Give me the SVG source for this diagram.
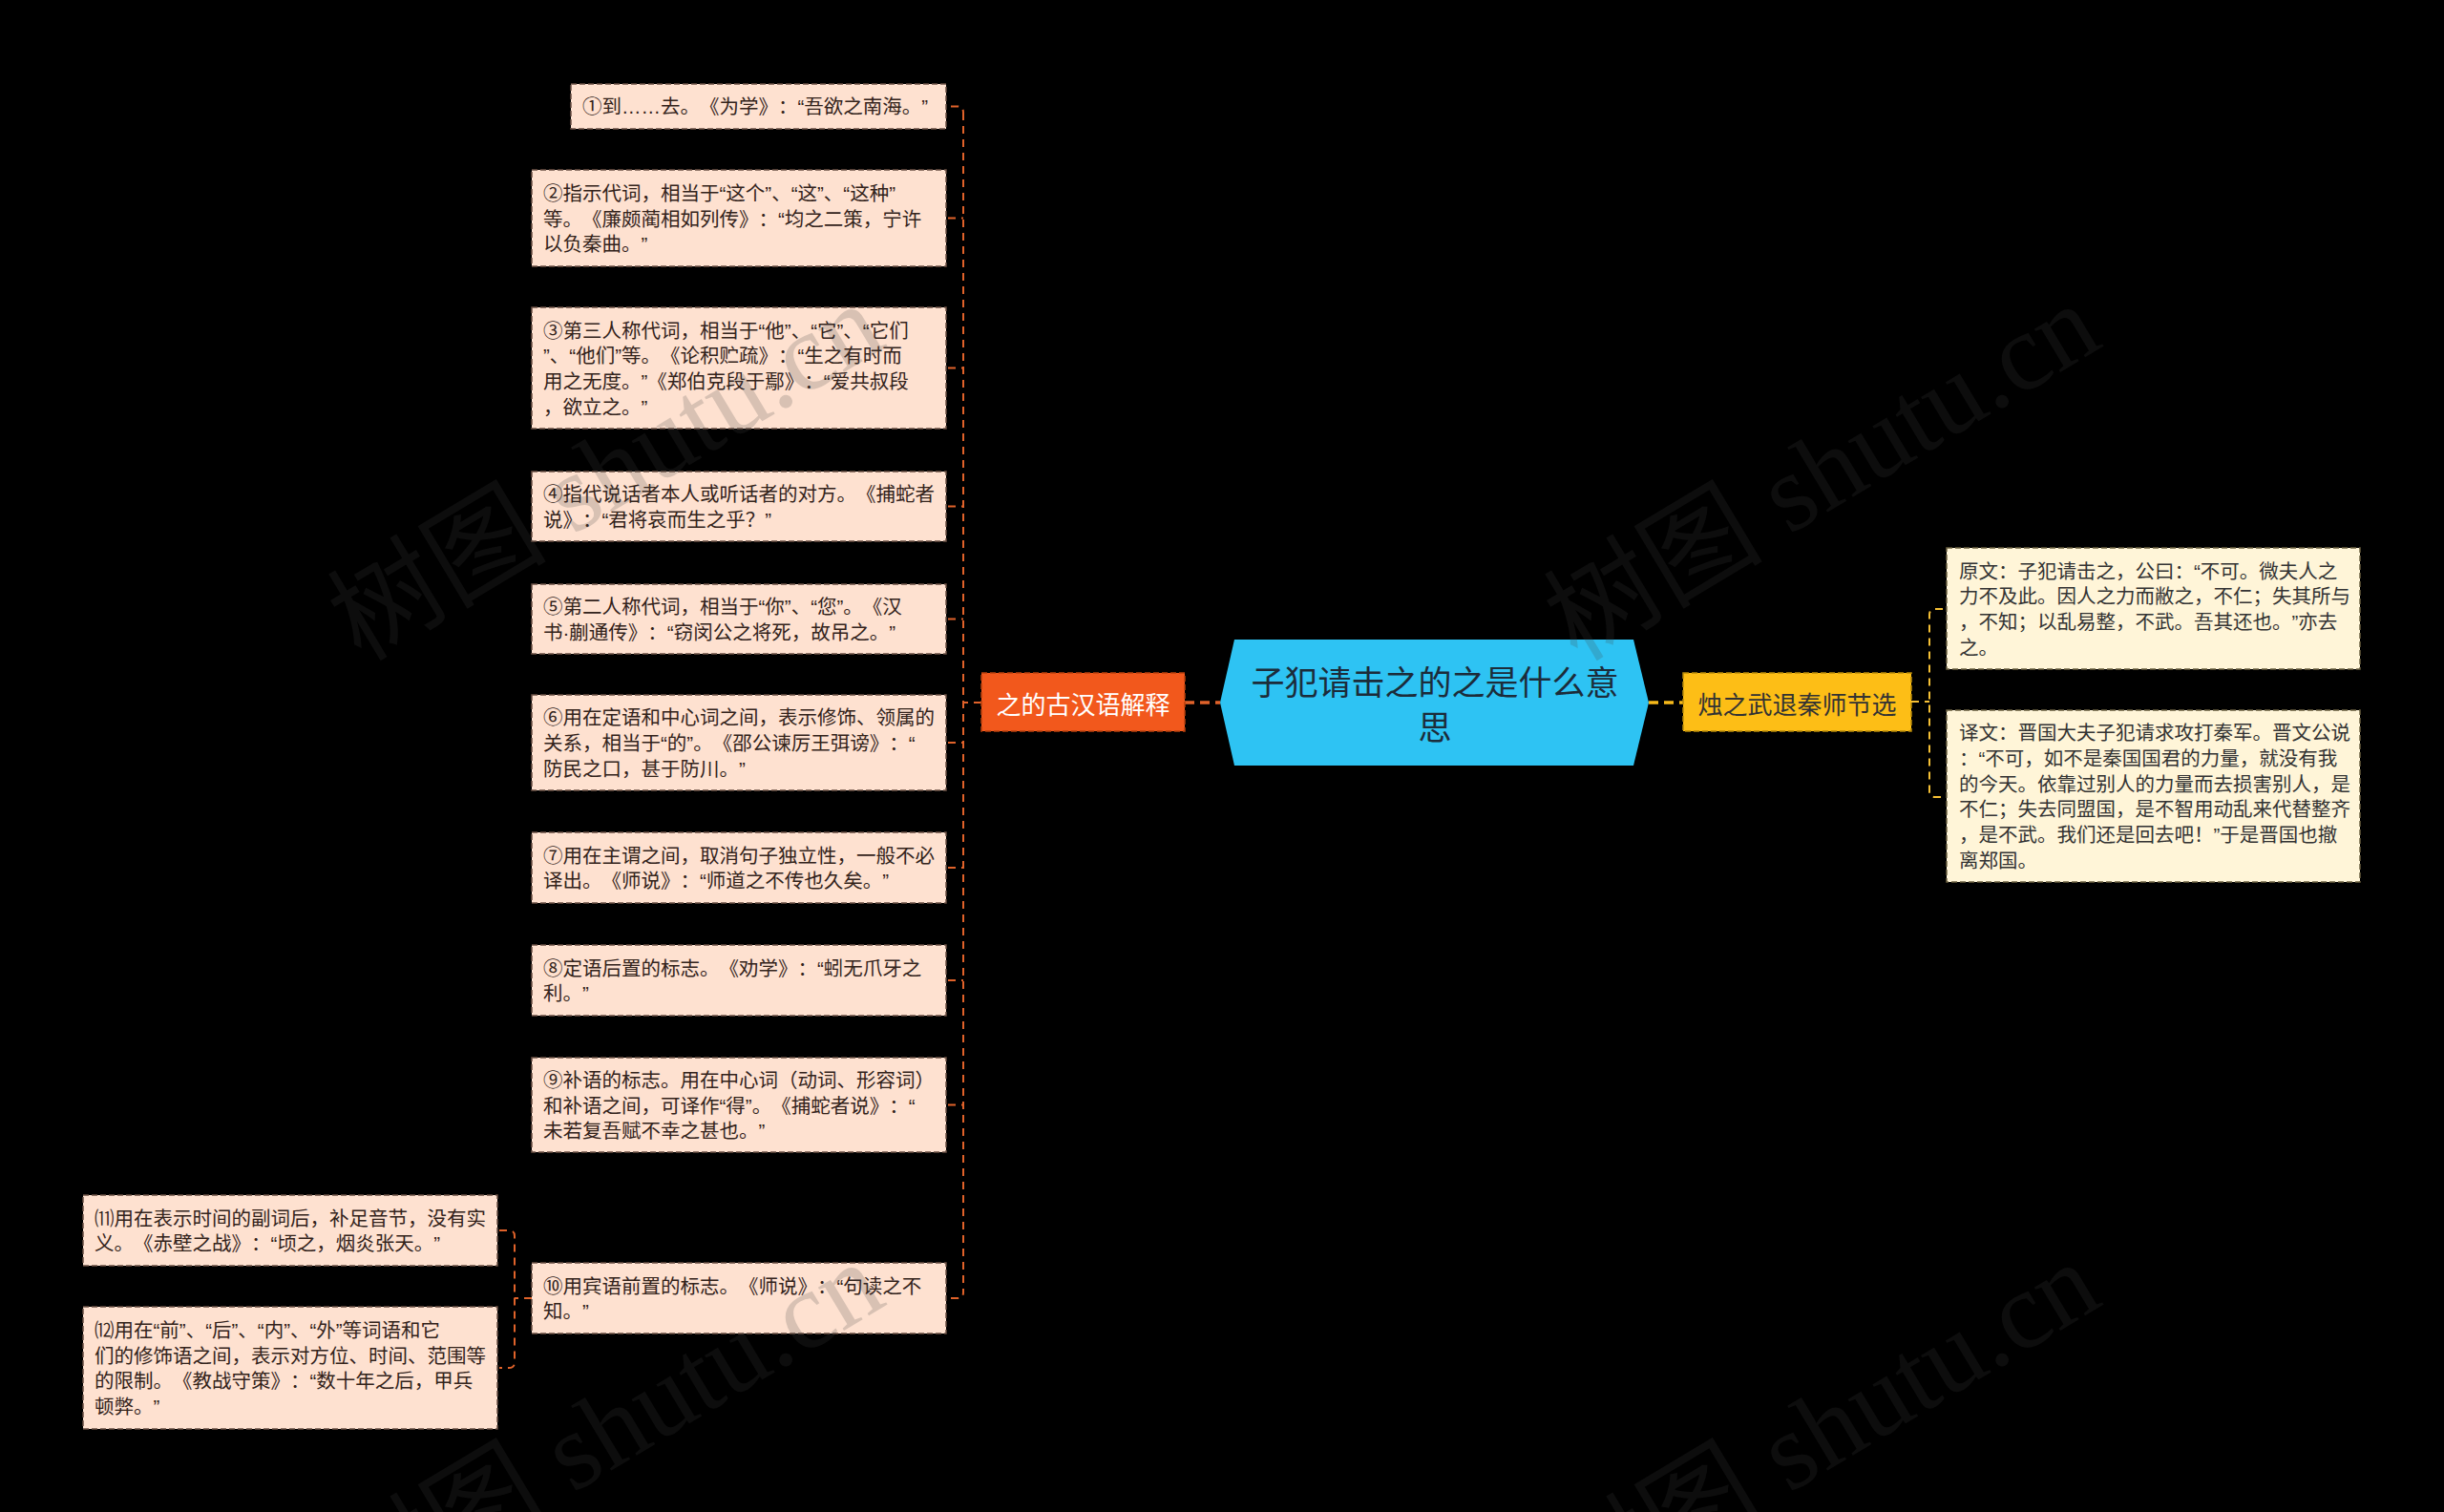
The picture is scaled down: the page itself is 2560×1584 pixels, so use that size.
<svg xmlns="http://www.w3.org/2000/svg" width="2560" height="1584" viewBox="0 0 2560 1584">
<style>
text{text-spacing-trim:space-all}
.bg{fill:#000}
.leaf{fill:#FEE1D0;stroke:#6b5044;stroke-width:1.5;stroke-dasharray:6 3}
.rleaf{fill:#FFF5D8;stroke:#6b6040;stroke-width:1.5;stroke-dasharray:6 3}
.lt{font-family:"Liberation Sans","Noto Sans CJK SC",sans-serif;font-size:20.5px;fill:#33231b;dominant-baseline:central}
.rt{font-family:"Liberation Sans","Noto Sans CJK SC",sans-serif;font-size:20.5px;fill:#333;dominant-baseline:central}
.oc{fill:none;stroke:#E0622A;stroke-width:2;stroke-dasharray:8 6}
.yc{fill:none;stroke:#F6C035;stroke-width:2;stroke-dasharray:8 6}
.wm{font-family:"Liberation Serif","Noto Sans CJK SC",serif;font-size:115px;fill:#444;opacity:0.2}
</style>
<rect class="bg" x="0" y="0" width="2560" height="1584"/>

<g id="connectors">
  <line x1="1241" y1="736" x2="1278" y2="736" stroke="#E0622A" stroke-width="3.5" stroke-dasharray="10 6"/>
  <line x1="1727" y1="736" x2="1763" y2="736" stroke="#F6B91A" stroke-width="3.5" stroke-dasharray="10 6"/>
  <line class="oc" x1="1028" y1="736" x2="1009" y2="736"/>
  <path class="oc" d="M1009,118 V1354"/>
  <path class="oc" d="M996,111.5 H1003 Q1009,111.5 1009,118"/>
  <path class="oc" d="M996,1360 H1003 Q1009,1360 1009,1354"/>
  <line class="oc" x1="993" y1="228.5" x2="1009" y2="228.5"/>
  <line class="oc" x1="993" y1="385.5" x2="1009" y2="385.5"/>
  <line class="oc" x1="993" y1="530.5" x2="1009" y2="530.5"/>
  <line class="oc" x1="993" y1="648.5" x2="1009" y2="648.5"/>
  <line class="oc" x1="993" y1="778" x2="1009" y2="778"/>
  <line class="oc" x1="993" y1="909" x2="1009" y2="909"/>
  <line class="oc" x1="993" y1="1027" x2="1009" y2="1027"/>
  <line class="oc" x1="993" y1="1157.5" x2="1009" y2="1157.5"/>
  <line class="oc" x1="557" y1="1360" x2="539" y2="1360"/>
  <path class="oc" d="M523,1289 H533 Q539,1289 539,1295 V1427 Q539,1433 533,1433 H523"/>
  <line class="yc" x1="2002" y1="735" x2="2021" y2="735"/>
  <path class="yc" d="M2035,638 H2027 Q2021,638 2021,644 V829 Q2021,835 2027,835 H2035"/>
</g>

<g id="center">
  <polygon points="1293,670 1711,670 1727,736 1711,802 1293,802 1278,736" fill="#2EC3F3"/>
  <text x="1503" y="712" text-anchor="middle" dominant-baseline="central" font-family="Noto Sans CJK SC, Noto Sans, sans-serif" font-size="35" fill="#1c2c3a">子犯请击之的之是什么意</text>
  <text x="1503" y="759" text-anchor="middle" dominant-baseline="central" font-family="Noto Sans CJK SC, Noto Sans, sans-serif" font-size="35" fill="#1c2c3a">思</text>
</g>

<g id="branch-left">
  <rect x="1028" y="705" width="213" height="61" fill="#F2581C" stroke="#b8400e" stroke-width="1.5" stroke-dasharray="6 3"/>
  <text x="1134.5" y="736" text-anchor="middle" dominant-baseline="central" font-family="Noto Sans CJK SC, Noto Sans, sans-serif" font-size="26" fill="#fff">之的古汉语解释</text>
</g>

<g id="branch-right">
  <rect x="1763" y="705" width="239" height="61" fill="#FDBE16" stroke="#b88a0a" stroke-width="1.5" stroke-dasharray="6 3"/>
  <text x="1882.5" y="736" text-anchor="middle" dominant-baseline="central" font-family="Noto Sans CJK SC, Noto Sans, sans-serif" font-size="26" fill="#333">烛之武退秦师节选</text>
</g>

<g id="n1">
  <rect class="leaf" x="598" y="88" width="393" height="47"/>
  <text class="lt" x="610" y="111.5">①到……去。《为学》：“吾欲之南海。”</text>
</g>
<g id="n2">
  <rect class="leaf" x="557" y="178" width="434" height="101"/>
  <text class="lt"><tspan x="569" y="201.8">②指示代词，相当于“这个”、“这”、“这种”</tspan><tspan x="569" y="228.5">等。《廉颇蔺相如列传》：“均之二策，宁许</tspan><tspan x="569" y="255.2">以负秦曲。”</tspan></text>
</g>
<g id="n3">
  <rect class="leaf" x="557" y="322" width="434" height="127"/>
  <text class="lt"><tspan x="569" y="345.5">③第三人称代词，相当于“他”、“它”、“它们</tspan><tspan x="569" y="372.2">”、“他们”等。《论积贮疏》：“生之有时而</tspan><tspan x="569" y="398.9">用之无度。”《郑伯克段于鄢》：“爱共叔段</tspan><tspan x="569" y="425.6">，欲立之。”</tspan></text>
</g>
<g id="n4">
  <rect class="leaf" x="557" y="494" width="434" height="73"/>
  <text class="lt"><tspan x="569" y="517.2">④指代说话者本人或听话者的对方。《捕蛇者</tspan><tspan x="569" y="543.8">说》：“君将哀而生之乎？”</tspan></text>
</g>
<g id="n5">
  <rect class="leaf" x="557" y="612" width="434" height="73"/>
  <text class="lt"><tspan x="569" y="635.2">⑤第二人称代词，相当于“你”、“您”。《汉</tspan><tspan x="569" y="661.8">书·蒯通传》：“窃闵公之将死，故吊之。”</tspan></text>
</g>
<g id="n6">
  <rect class="leaf" x="557" y="728" width="434" height="100"/>
  <text class="lt"><tspan x="569" y="751.3">⑥用在定语和中心词之间，表示修饰、领属的</tspan><tspan x="569" y="778">关系，相当于“的”。《邵公谏厉王弭谤》：“</tspan><tspan x="569" y="804.7">防民之口，甚于防川。”</tspan></text>
</g>
<g id="n7">
  <rect class="leaf" x="557" y="872" width="434" height="74"/>
  <text class="lt"><tspan x="569" y="895.7">⑦用在主谓之间，取消句子独立性，一般不必</tspan><tspan x="569" y="922.3">译出。《师说》：“师道之不传也久矣。”</tspan></text>
</g>
<g id="n8">
  <rect class="leaf" x="557" y="990" width="434" height="74"/>
  <text class="lt"><tspan x="569" y="1013.7">⑧定语后置的标志。《劝学》：“蚓无爪牙之</tspan><tspan x="569" y="1040.3">利。”</tspan></text>
</g>
<g id="n9">
  <rect class="leaf" x="557" y="1108" width="434" height="99"/>
  <text class="lt"><tspan x="569" y="1130.8">⑨补语的标志。用在中心词（动词、形容词）</tspan><tspan x="569" y="1157.5">和补语之间，可译作“得”。《捕蛇者说》：“</tspan><tspan x="569" y="1184.2">未若复吾赋不幸之甚也。”</tspan></text>
</g>
<g id="n10">
  <rect class="leaf" x="557" y="1323" width="434" height="74"/>
  <text class="lt"><tspan x="569" y="1346.7">⑩用宾语前置的标志。《师说》：“句读之不</tspan><tspan x="569" y="1373.3">知。”</tspan></text>
</g>
<g id="n11">
  <rect class="leaf" x="87" y="1252" width="434" height="74"/>
  <text class="lt"><tspan x="99" y="1275.7">⑾用在表示时间的副词后，补足音节，没有实</tspan><tspan x="99" y="1302.3">义。《赤壁之战》：“顷之，烟炎张天。”</tspan></text>
</g>
<g id="n12">
  <rect class="leaf" x="87" y="1369" width="434" height="128"/>
  <text class="lt"><tspan x="99" y="1393">⑿用在“前”、“后”、“内”、“外”等词语和它</tspan><tspan x="99" y="1419.7">们的修饰语之间，表示对方位、时间、范围等</tspan><tspan x="99" y="1446.3">的限制。《教战守策》：“数十年之后，甲兵</tspan><tspan x="99" y="1473">顿弊。”</tspan></text>
</g>

<g id="r1">
  <rect class="rleaf" x="2039" y="574" width="433" height="127"/>
  <text class="rt"><tspan x="2052" y="597.5">原文：子犯请击之，公曰：“不可。微夫人之</tspan><tspan x="2052" y="624.2">力不及此。因人之力而敝之，不仁；失其所与</tspan><tspan x="2052" y="650.8">，不知；以乱易整，不武。吾其还也。”亦去</tspan><tspan x="2052" y="677.5">之。</tspan></text>
</g>
<g id="r2">
  <rect class="rleaf" x="2039" y="744" width="433" height="180"/>
  <text class="rt"><tspan x="2052" y="767.3">译文：晋国大夫子犯请求攻打秦军。晋文公说</tspan><tspan x="2052" y="794">：“不可，如不是秦国国君的力量，就没有我</tspan><tspan x="2052" y="820.7">的今天。依靠过别人的力量而去损害别人，是</tspan><tspan x="2052" y="847.3">不仁；失去同盟国，是不智用动乱来代替整齐</tspan><tspan x="2052" y="874">，是不武。我们还是回去吧！”于是晋国也撤</tspan><tspan x="2052" y="900.7">离郑国。</tspan></text>
</g>

<g id="watermarks">
  <text class="wm" x="378" y="694" transform="rotate(-31 378 694)">树图 shutu.cn</text>
  <text class="wm" x="1652" y="694" transform="rotate(-31 1652 694)">树图 shutu.cn</text>
  <text class="wm" x="378" y="1698" transform="rotate(-31 378 1698)">树图 shutu.cn</text>
  <text class="wm" x="1652" y="1698" transform="rotate(-31 1652 1698)">树图 shutu.cn</text>
</g>
</svg>
